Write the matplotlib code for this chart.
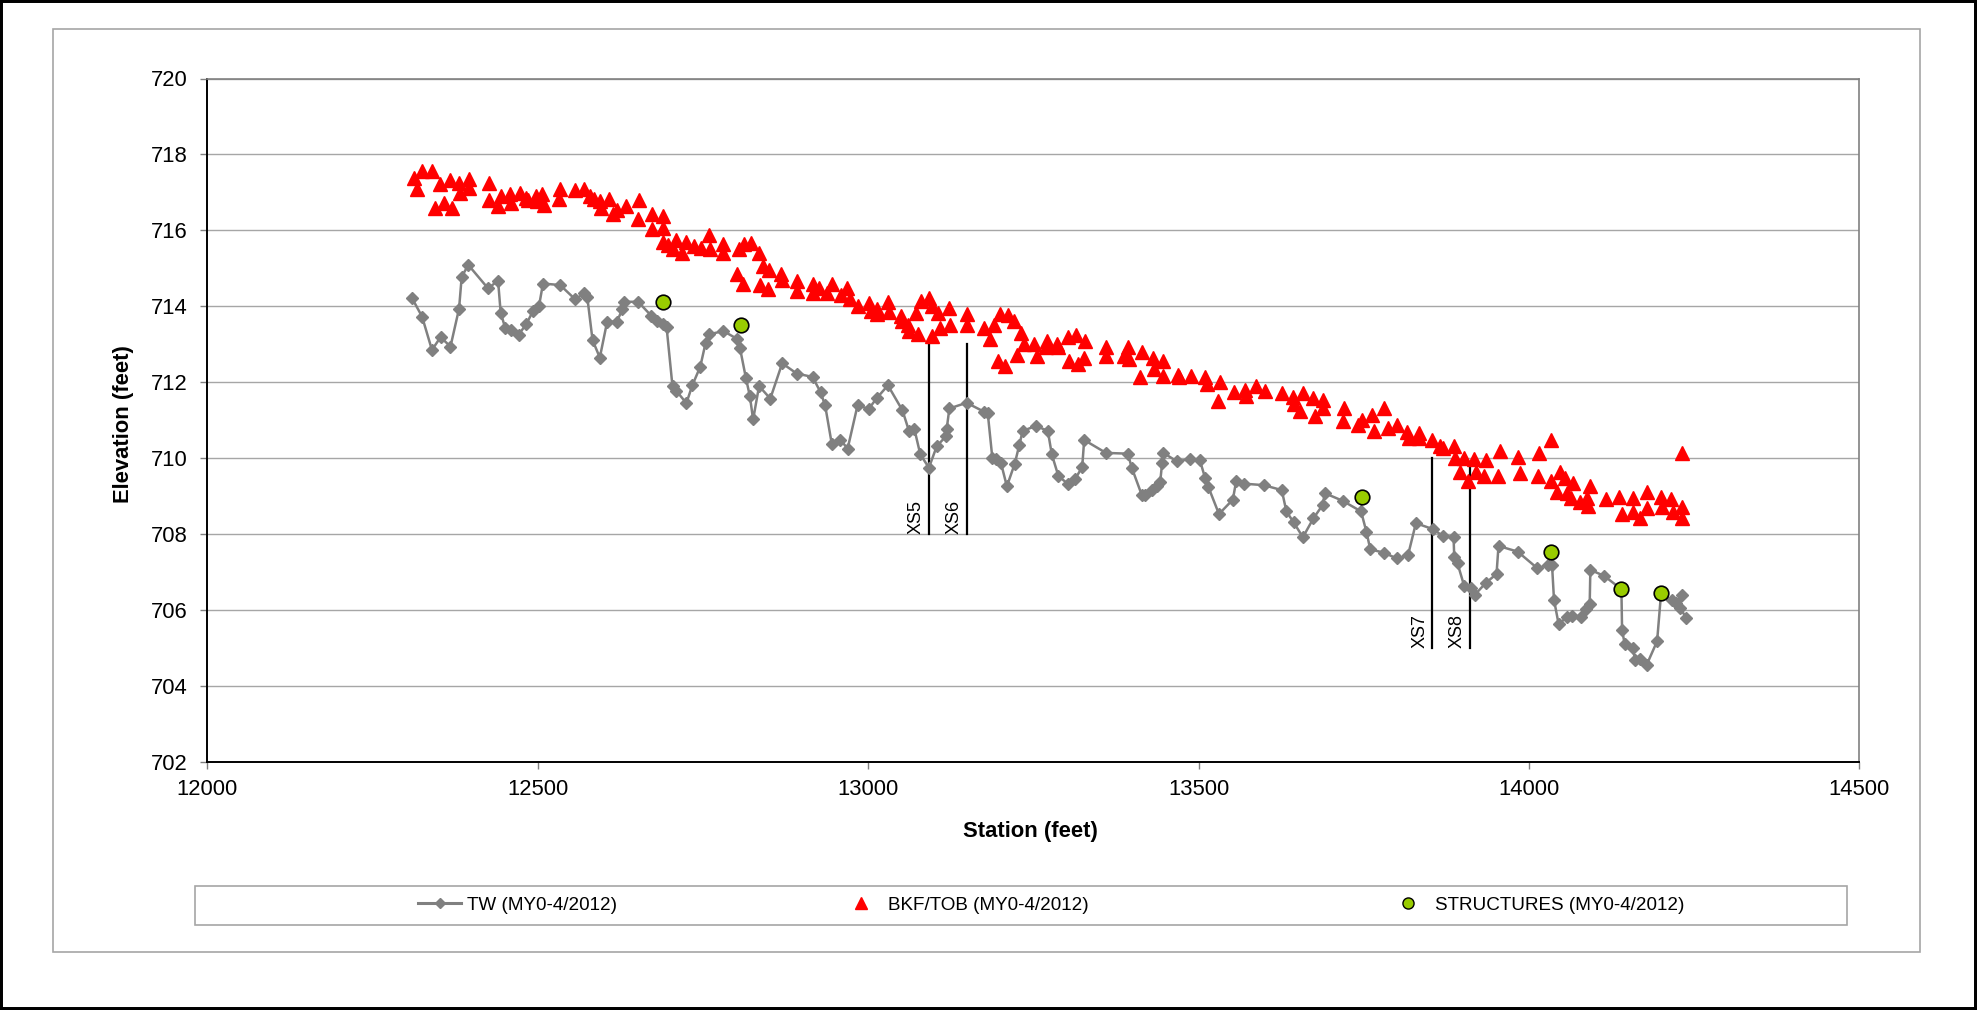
import matplotlib
matplotlib.use('Agg')
import matplotlib.pyplot as plt
from matplotlib.patches import Rectangle

plt.rcParams['font.family'] = ['Liberation Sans', 'DejaVu Sans']

# TW (thalweg) profile: station, elevation
tw_station = [12310, 12325, 12340, 12353, 12368, 12381, 12385, 12395, 12425, 12440,
              12444, 12451, 12459, 12471, 12483, 12493, 12502, 12508, 12534, 12557,
              12570, 12575, 12583, 12594, 12605, 12620, 12628, 12631, 12652, 12672,
              12681, 12689, 12695, 12704, 12710, 12725, 12734, 12746, 12754, 12759,
              12781, 12801, 12806, 12815, 12821, 12826, 12835, 12852, 12870, 12892,
              12916, 12928, 12935, 12945, 12958, 12969, 12984, 13001, 13013, 13030,
              13052, 13062, 13070, 13079, 13092, 13104, 13118, 13119, 13123, 13149,
              13176, 13181, 13188, 13193, 13201, 13210, 13222, 13229, 13234, 13254,
              13272, 13278, 13288, 13302, 13313, 13324, 13327, 13360, 13393, 13399,
              13414, 13419, 13429, 13437, 13442, 13445, 13447, 13467, 13487, 13502,
              13510, 13515, 13531, 13552, 13557, 13569, 13599, 13626, 13633, 13644,
              13658, 13674, 13688, 13691, 13718, 13746, 13754, 13760, 13781, 13800,
              13817, 13829, 13855, 13870, 13886, 13887, 13892, 13902, 13913, 13918,
              13935, 13951, 13954, 13983, 14013, 14029, 14035, 14038, 14045, 14057,
              14065, 14079, 14087, 14092, 14093, 14114, 14140, 14141, 14145, 14157,
              14161, 14168, 14178, 14194, 14200, 14216, 14223, 14231, 14229, 14238]
tw_elev = [714.21, 713.73, 712.85, 713.19, 712.94, 713.94, 714.78, 715.09, 714.47, 714.68,
           713.83, 713.42, 713.38, 713.25, 713.54, 713.88, 714.01, 714.60, 714.56, 714.18,
           714.34, 714.25, 713.11, 712.65, 713.59, 713.60, 713.92, 714.12, 714.12, 713.75,
           713.61, 713.54, 713.46, 711.89, 711.77, 711.45, 711.92, 712.41, 713.03, 713.26,
           713.35, 713.15, 712.91, 712.12, 711.64, 711.02, 711.90, 711.57, 712.50, 712.23,
           712.14, 711.74, 711.39, 710.38, 710.49, 710.25, 711.39, 711.30, 711.58, 711.92,
           711.26, 710.71, 710.77, 710.10, 709.75, 710.32, 710.58, 710.78, 711.31, 711.46,
           711.22, 711.20, 710.01, 709.97, 709.88, 709.26, 709.86, 710.36, 710.72, 710.85,
           710.72, 710.10, 709.53, 709.33, 709.44, 709.77, 710.48, 710.14, 710.12, 709.75,
           709.04, 709.04, 709.16, 709.28, 709.37, 709.88, 710.14, 709.92, 709.97, 709.95,
           709.48, 709.24, 708.53, 708.91, 709.40, 709.33, 709.29, 709.16, 708.60, 708.31,
           707.92, 708.42, 708.77, 709.08, 708.88, 708.60, 708.07, 707.60, 707.51, 707.36,
           707.44, 708.29, 708.13, 707.95, 707.92, 707.41, 707.23, 706.64, 706.57, 706.40,
           706.72, 706.95, 707.69, 707.54, 707.10, 707.19, 707.19, 706.27, 705.63, 705.81,
           705.84, 705.83, 706.04, 706.16, 707.06, 706.90, 706.55, 705.47, 705.11, 705.01,
           704.68, 704.70, 704.55, 705.18, 706.44, 706.27, 706.19, 706.40, 706.05, 705.80]

# BKF/TOB points
bkf_station = [12313, 12318, 12325, 12340, 12345, 12352, 12358, 12368, 12370, 12381,
               12382, 12396, 12396, 12426, 12426, 12440, 12444, 12458, 12459, 12473,
               12482, 12485, 12497, 12499, 12507, 12509, 12532, 12534, 12557, 12570,
               12579, 12585, 12595, 12596, 12608, 12614, 12620, 12633, 12652, 12653,
               12673, 12673, 12689, 12689, 12690, 12697, 12704, 12710, 12719, 12724,
               12737, 12747, 12759, 12761, 12781, 12781, 12802, 12805, 12811, 12812,
               12823, 12835, 12837, 12841, 12848, 12850, 12868, 12869, 12892, 12893,
               12916, 12916, 12926, 12938, 12946, 12959, 12968, 12973, 12984, 13001,
               13004, 13014, 13014, 13030, 13032, 13050, 13052, 13060, 13062, 13072,
               13075, 13080, 13092, 13096, 13096, 13106, 13109, 13123, 13124, 13149,
               13149, 13175, 13185, 13190, 13196, 13200, 13207, 13211, 13221, 13225,
               13232, 13236, 13251, 13255, 13269, 13270, 13286, 13288, 13302, 13304,
               13314, 13318, 13326, 13328, 13360, 13360, 13388, 13393, 13395, 13412,
               13414, 13431, 13433, 13446, 13447, 13469, 13470, 13488, 13510, 13513,
               13529, 13532, 13553, 13570, 13572, 13587, 13600, 13626, 13643, 13645,
               13653, 13658, 13674, 13676, 13689, 13689, 13718, 13720, 13741, 13747,
               13763, 13765, 13781, 13787, 13801, 13816, 13818, 13833, 13834, 13853,
               13866, 13870, 13886, 13888, 13895, 13902, 13908, 13917, 13920, 13932,
               13935, 13953, 13956, 13984, 13986, 14014, 14015, 14033, 14034, 14043,
               14047, 14054, 14057, 14063, 14067, 14077, 14088, 14090, 14093, 14117,
               14137, 14141, 14157, 14157, 14168, 14178, 14179, 14200, 14202, 14215,
               14218, 14231, 14231, 14232]
bkf_elev = [717.39, 717.08, 717.56, 717.56, 716.60, 717.23, 716.73, 717.34, 716.60, 717.25,
            716.99, 717.36, 717.12, 717.25, 716.80, 716.64, 716.90, 716.95, 716.71, 716.99,
            716.86, 716.80, 716.90, 716.77, 716.95, 716.68, 716.83, 717.08, 717.06, 717.10,
            716.90, 716.83, 716.77, 716.60, 716.83, 716.42, 716.55, 716.64, 716.31, 716.80,
            716.42, 716.03, 716.38, 716.07, 715.69, 715.61, 715.52, 715.76, 715.41, 715.69,
            715.59, 715.54, 715.89, 715.52, 715.63, 715.41, 714.84, 715.50, 714.58, 715.63,
            715.68, 715.41, 714.55, 715.06, 714.45, 714.97, 714.84, 714.69, 714.67, 714.40,
            714.58, 714.36, 714.49, 714.34, 714.58, 714.31, 714.49, 714.20, 714.02, 714.09,
            713.88, 713.92, 713.79, 714.11, 713.85, 713.74, 713.61, 713.52, 713.35, 713.83,
            713.26, 714.14, 714.23, 714.01, 713.22, 713.83, 713.44, 713.96, 713.50, 713.79,
            713.52, 713.44, 713.15, 713.52, 712.56, 713.79, 712.43, 713.76, 713.61, 712.73,
            713.30, 713.00, 713.01, 712.70, 712.92, 713.09, 713.01, 712.92, 713.18, 712.57,
            713.24, 712.48, 712.63, 713.09, 712.92, 712.68, 712.68, 712.94, 712.61, 712.15,
            712.80, 712.63, 712.35, 712.57, 712.17, 712.19, 712.13, 712.17, 712.14, 711.95,
            711.51, 712.01, 711.75, 711.80, 711.64, 711.90, 711.77, 711.73, 711.62, 711.42,
            711.24, 711.72, 711.59, 711.12, 711.53, 711.32, 710.97, 711.32, 710.88, 711.01,
            711.15, 710.73, 711.32, 710.80, 710.88, 710.68, 710.53, 710.66, 710.53, 710.49,
            710.31, 710.27, 710.31, 710.00, 709.65, 710.00, 709.39, 709.98, 709.65, 709.52,
            709.96, 709.52, 710.18, 710.03, 709.61, 709.52, 710.15, 710.47, 709.39, 709.12,
            709.63, 709.48, 709.08, 708.95, 709.34, 708.86, 708.95, 708.75, 709.26, 708.92,
            708.97, 708.53, 708.95, 708.59, 708.42, 709.12, 708.68, 708.99, 708.71, 708.93,
            708.59, 708.71, 708.42, 710.13]

# structures
st_station = [12690, 12807, 13748, 14034, 14140, 14200]
st_elev = [714.12, 713.51, 708.99, 707.54, 706.55, 706.44]

# cross sections: name, station, bottom, top
xs_names = ['XS5', 'XS6', 'XS7', 'XS8']
xs_station = [13092, 13149, 13854, 13911]
xs_bottom = [708.0, 708.0, 705.0, 705.0]
xs_top = [713.02, 713.0, 710.0, 709.8]

if __name__ == '__main__':
    W, H = 1977, 1010
    fig = plt.figure(figsize=(W / 100, H / 100), dpi=100)
    ax = fig.add_axes([207.3 / W, 1 - 762 / H, 1652 / W, 683.5 / H])

    # grid
    ax.set_axisbelow(True)
    ax.yaxis.grid(True, color='#a6a6a6', lw=1.0)

    # cross section lines and labels
    for name, s, b, t in zip(xs_names, xs_station, xs_bottom, xs_top):
        ax.plot([s, s], [b, t], color='black', lw=1.6, zorder=2)
        ax.annotate(name, (s, b), xytext=(-3, 0), textcoords='offset points',
                    rotation=90, ha='right', va='bottom', fontsize=13)

    ax.plot(tw_station, tw_elev, color='#808080', lw=1.8, marker='D', ms=6.2,
            mfc='#808080', mec='#808080', zorder=3)
    ax.plot(bkf_station, bkf_elev, ls='none', marker='^', ms=9.8, color='#ff0000',
            mec='#ff0000', zorder=4)
    ax.plot(st_station, st_elev, ls='none', marker='o', ms=10.5, mfc='#99cc00',
            mec='black', mew=1.2, zorder=5)

    ax.set_xlim(12000, 14500)
    ax.set_ylim(702, 720)
    ax.set_xticks(range(12000, 14501, 500))
    ax.set_yticks(range(702, 721, 2))
    ax.tick_params(axis='both', labelsize=15.8, color='#808080', length=5, width=1)
    ax.tick_params(axis='y', pad=9)
    ax.tick_params(axis='x', pad=7)

    for side in ['top', 'right']:
        ax.spines[side].set_color('#808080')
        ax.spines[side].set_linewidth(1.2)
    for side in ['left', 'bottom']:
        ax.spines[side].set_color('black')
        ax.spines[side].set_linewidth(1.4)

    fig.text(123 / W, 1 - 424 / H, 'Elevation (feet)', rotation=90, ha='center', va='center',
             fontsize=15.8, fontweight='bold')
    fig.text(1030 / W, 1 - 831 / H, 'Station (feet)', ha='center', va='center',
             fontsize=15.8, fontweight='bold')

    # legend, one entry each, inside a drawn box
    h_tw, = ax.plot([], [], color='#808080', lw=2.2, marker='D', ms=5, mfc='#808080', mec='#808080')
    h_bkf, = ax.plot([], [], ls='none', marker='^', ms=8, color='#ff0000')
    h_st, = ax.plot([], [], ls='none', marker='o', ms=8, mfc='#99cc00', mec='black', mew=1)
    items = [(h_tw, 'TW (MY0-4/2012)', 418), (h_bkf, 'BKF/TOB (MY0-4/2012)', 839),
             (h_st, 'STRUCTURES (MY0-4/2012)', 1386)]
    for h, lab, x0 in items:
        lg = fig.legend([h], [lab], loc='center left', bbox_to_anchor=(x0 / W, 1 - 905 / H),
                        frameon=False, fontsize=13.6, handlelength=2.3, handletextpad=0.3,
                        borderpad=0, borderaxespad=0)
    fig.add_artist(Rectangle((195 / W, 1 - 925 / H), (1847 - 195) / W, 39 / H,
                             transform=fig.transFigure, fill=False, ec='#a6a6a6', lw=1.2))

    # chart area frame and outer border
    fig.add_artist(Rectangle((53 / W, 1 - 952 / H), (1920 - 53) / W, (952 - 29) / H,
                             transform=fig.transFigure, fill=False, ec='#a6a6a6', lw=1.2))
    fig.add_artist(Rectangle((0, 0), 1, 1, transform=fig.transFigure, fill=False,
                             ec='black', lw=4.3))

    fig.savefig('out.png', dpi=100)
